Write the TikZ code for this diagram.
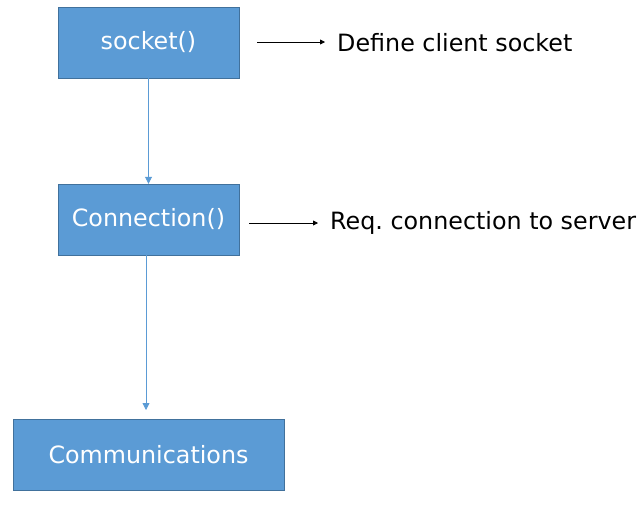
\documentclass[tikz,border=0pt]{standalone}
\usepackage{fontspec}
\setmainfont{DejaVu Sans}
\usetikzlibrary{arrows.meta}
\definecolor{boxblue}{HTML}{5B9BD5}
\definecolor{boxedge}{HTML}{41719C}
\frenchspacing
\tikzset{
  stepbox/.style={draw=boxedge, fill=boxblue, text=white, minimum height=71pt, font=\fontsize{23.8}{28}\selectfont},
  note/.style={anchor=west, inner sep=0pt, font=\fontsize{23.8}{28}\selectfont},
  flow/.style={boxblue, line width=0.8pt, -{Triangle[length=7pt,width=7pt]}},
  remark/.style={black, line width=0.8pt, -{Triangle[length=5pt,width=5pt]}}
}
\begin{document}
\begin{tikzpicture}[x=1pt,y=-1pt]
\useasboundingbox (0,0) rectangle (644,507);

% boxes
\node[stepbox, minimum width=181pt] (sock) at (148.5,42.5) {socket()};
\node[stepbox, minimum width=181pt] (conn) at (148.5,219.5) {Connection()};
\node[stepbox, minimum width=271pt] (comm) at (148.5,454.5) {Communications};

% flow between boxes
\coordinate (commtop) at (146,410);
\draw[flow] (sock.south) -- (conn.north);
\draw[flow] (conn.south -| commtop) -- (commtop);

% side notes
\node[note] (sockdesc) at (337,43) {Define client socket};
\node[note] (conndesc) at (330,223) {Req. connection to server};
\coordinate (sockout) at (257,42);
\coordinate (connout) at (249,223);
\draw[remark] (sockout) -- ([xshift=-12pt]sockdesc.west |- sockout);
\draw[remark] (connout) -- ([xshift=-12pt]conndesc.west |- connout);

\end{tikzpicture}
\end{document}
